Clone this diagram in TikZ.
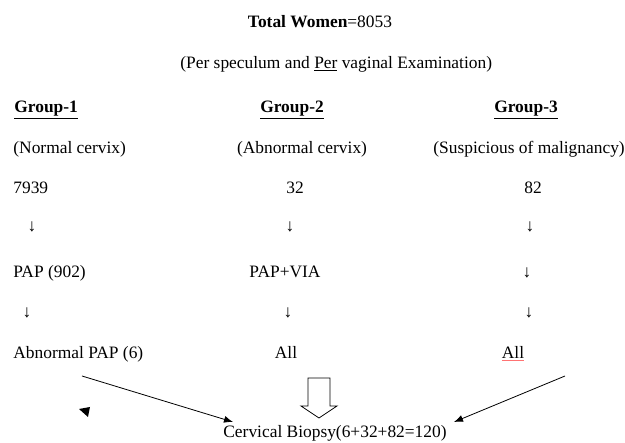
\documentclass[tikz,border=0pt]{standalone}
\usepackage{fontspec}
\setmainfont{Liberation Serif}
\usetikzlibrary{arrows.meta}

\tikzset{every picture/.style={line width=0.8pt}}
\tikzset{every node/.style={font=\fontsize{17.4}{20}\selectfont, inner sep=0pt}}
\tikzset{down/.style={anchor=base}}
\tikzset{toBiopsy/.style={-{Latex[length=9pt,width=7pt]}}}

\begin{document}
\begin{tikzpicture}[x=1pt,y=1pt,yscale=-1,xscale=1]
\useasboundingbox (0,0) rectangle (625,443);

% Text Node
\draw (320,28) node [anchor=base] (total) {\textbf{Total Women}=8053};
% Text Node
\draw (180,69) node [anchor=base west] (exam) {(Per speculum and \underline{Per} vaginal Examination)};

% Text Node
\draw (14,113) node [anchor=base west] (grpa) {\underline{\textbf{Group-1}}};
% Text Node
\draw (292,113) node [anchor=base] (grpb) {\underline{\textbf{Group-2}}};
% Text Node
\draw (526,113) node [anchor=base] (grpc) {\underline{\textbf{Group-3}}};

% Text Node
\draw (13,154) node [anchor=base west] (norm) {(Normal cervix)};
% Text Node
\draw (302,154) node [anchor=base] (abcx) {(Abnormal cervix)};
% Text Node
\draw (433,154) node [anchor=base west] (susp) {(Suspicious of malignancy)};

% Text Node
\draw (13,194) node [anchor=base west] (numa) {7939};
% Text Node
\draw (295,194) node [anchor=base] (numb) {32};
% Text Node
\draw (533,194) node [anchor=base] (numc) {82};

% Text Node
\draw (32,232) node [down] (dna) {↓};
% Text Node
\draw (290,232) node [down] (dnb) {↓};
% Text Node
\draw (530,232) node [down] (dnc) {↓};

% Text Node
\draw (13,278) node [anchor=base west] (papa) {PAP (902)};
% Text Node
\draw (285,278) node [anchor=base] (papb) {PAP+VIA};
% Text Node
\draw (527,278) node [down] (dnd) {↓};

% Text Node
\draw (27,318) node [down] (dne) {↓};
% Text Node
\draw (288,318) node [down] (dnf) {↓};
% Text Node
\draw (529,318) node [down] (dng) {↓};

% Text Node
\draw (13,359) node [anchor=base west] (abpap) {Abnormal PAP (6)};
% Text Node
\draw (286,359) node [anchor=base] (alla) {All};
% Text Node
\draw (513,359) node [anchor=base] (allb) {{\color{red!55}\underline{\color{black}All}}};

% Text Node
\draw (335,438) node [anchor=base] (biopsy) {Cervical Biopsy(6+32+82=120)};

%Straight Lines
\coordinate (la) at (82,376);
\coordinate (lb) at (233,422);
\draw [toBiopsy] (la) -- (lb);
%Straight Lines
\coordinate (ra) at (565,376);
\coordinate (rb) at (454,422);
\draw [toBiopsy] (ra) -- (rb);

%Shape: Triangle
\fill (79,409) -- (90,407) -- (88,417) -- cycle;

%Shape: Down Arrow
\draw (308,378) -- (330,378) -- (330,406) -- (337,406) -- (319,418) -- (301,406) -- (308,406) -- cycle;

\end{tikzpicture}
\end{document}
